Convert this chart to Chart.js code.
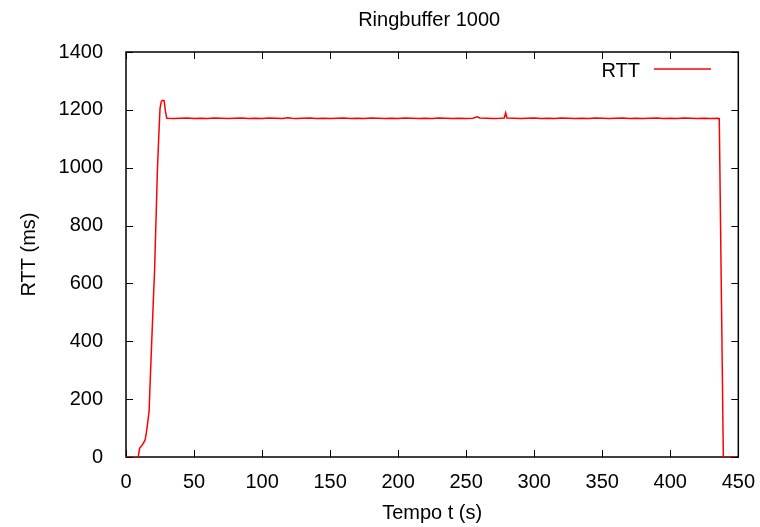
<!DOCTYPE html>
<html>
<head>
<meta charset="utf-8">
<script src="https://cdn.jsdelivr.net/npm/chart.js@4"></script>
<style>
  body { margin: 0; background: #fff; }
  canvas { display: block; }
</style>
</head>
<body>
<canvas id="chart" width="760" height="527"></canvas>
<script>
// values
const chartTitle = 'Ringbuffer 1000';
const seriesLabel = 'RTT';
const xTitle = 'Tempo t (s)';
const yTitle = 'RTT (ms)';
const xTicks = [0, 50, 100, 150, 200, 250, 300, 350, 400, 450];
const yTicks = [0, 200, 400, 600, 800, 1000, 1200, 1400];

const times = [
  0, 9, 10, 12, 14, 15, 16, 17, 18, 19, 20, 21, 22, 23, 24, 25, 26, 27, 28, 29, 30,
  35, 40, 45, 50, 55, 60, 65, 70, 75, 80, 85, 90, 95, 100, 105, 110, 115, 119, 122,
  125, 130, 135, 140, 145, 150, 155, 160, 165, 170, 175, 180, 185, 190, 195, 200,
  205, 210, 215, 220, 225, 230, 235, 240, 245, 250, 255, 258, 260, 265, 270, 275,
  278, 279, 280, 285, 290, 295, 300, 305, 310, 315, 320, 325, 330, 335, 340, 345,
  350, 355, 360, 365, 370, 375, 380, 385, 390, 395, 400, 405, 410, 415, 420, 425,
  430, 435, 436, 439, 448
];
const rtt = [
  0, 0, 30, 42, 58, 85, 120, 160, 290, 410, 530, 645, 810, 980, 1100, 1205, 1230, 1233, 1232, 1195, 1171,
  1170, 1171, 1172, 1170, 1171, 1170, 1172, 1171, 1170, 1171, 1172, 1170, 1171, 1170, 1172, 1171, 1170, 1173, 1171,
  1170, 1171, 1172, 1170, 1171, 1170, 1171, 1172, 1170, 1171, 1170, 1172, 1171, 1170, 1171, 1170,
  1172, 1171, 1170, 1171, 1170, 1172, 1171, 1170, 1171, 1170, 1171, 1176, 1172, 1171, 1170, 1171,
  1172, 1190, 1172, 1171, 1170, 1171, 1172, 1170, 1171, 1170, 1172, 1171, 1170, 1171, 1170, 1172,
  1171, 1170, 1171, 1172, 1170, 1171, 1170, 1171, 1172, 1170, 1171, 1170, 1172, 1171, 1170, 1171,
  1170, 1171, 1170, 0, 0
];

const FONT = "'Liberation Sans', Arial, Helvetica, sans-serif";
Chart.defaults.font.family = FONT;
Chart.defaults.font.size = 20;
Chart.defaults.color = '#000';

// gnuplot-like frame with inward (mirrored) tick marks
const framePlugin = {
  id: 'frame',
  beforeDatasetsDraw(chart) {
    const {ctx, chartArea: a, scales} = chart;
    ctx.save();
    ctx.strokeStyle = '#000';
    ctx.lineWidth = 1;
    const len = 7;
    ctx.beginPath();
    xTicks.forEach(v => {
      const px = Math.round(scales.x.getPixelForValue(v)) + 0.5;
      ctx.moveTo(px, a.bottom); ctx.lineTo(px, a.bottom - len);
      ctx.moveTo(px, a.top); ctx.lineTo(px, a.top + len);
    });
    yTicks.forEach(v => {
      const py = Math.round(scales.y.getPixelForValue(v)) + 0.5;
      ctx.moveTo(a.left, py); ctx.lineTo(a.left + len, py);
      ctx.moveTo(a.right, py); ctx.lineTo(a.right - len, py);
    });
    ctx.stroke();
    ctx.lineWidth = 1.5;
    ctx.strokeRect(a.left, a.top, a.right - a.left, a.bottom - a.top);
    ctx.restore();
  },
  afterDraw(chart) {
    const {ctx, chartArea: a} = chart;
    ctx.save();
    ctx.fillStyle = '#000';
    ctx.font = '20px ' + FONT;
    ctx.textAlign = 'center';
    ctx.textBaseline = 'alphabetic';
    ctx.fillText(chartTitle, (a.left + a.right) / 2 - 3, 26);
    // legend inside, top right
    const ds = chart.data.datasets[0];
    ctx.textAlign = 'right';
    ctx.fillText(ds.label, 640, 77);
    ctx.strokeStyle = ds.borderColor;
    ctx.lineWidth = ds.borderWidth;
    ctx.beginPath();
    ctx.moveTo(654, 69);
    ctx.lineTo(711, 69);
    ctx.stroke();
    ctx.restore();
  }
};

new Chart(document.getElementById('chart').getContext('2d'), {
  type: 'line',
  data: {
    datasets: [{
      label: seriesLabel,
      data: times.map((t, i) => ({x: t, y: rtt[i]})),
      borderColor: '#ff0000',
      borderWidth: 1.5,
      pointRadius: 0,
      tension: 0,
      fill: false
    }]
  },
  options: {
    responsive: false,
    animation: false,
    layout: {padding: {top: 52, right: 18, left: 0, bottom: 0}},
    plugins: {legend: {display: false}, title: {display: false}, tooltip: {enabled: false}},
    scales: {
      x: {
        type: 'linear', min: 0, max: 450,
        grid: {display: false}, border: {display: false},
        ticks: {stepSize: 50, padding: 5, maxRotation: 0, callback: v => String(v)},
        title: {display: true, text: xTitle, padding: {top: 2, bottom: 2}},
        afterFit(s) { s.height = 70; }
      },
      y: {
        min: 0, max: 1400,
        grid: {display: false}, border: {display: false},
        ticks: {stepSize: 200, padding: 15, callback: v => String(v)},
        title: {display: true, text: yTitle, padding: {top: 17, bottom: 0}},
        afterFit(s) { s.width = 126; }
      }
    }
  },
  plugins: [framePlugin]
});
</script>
</body>
</html>
